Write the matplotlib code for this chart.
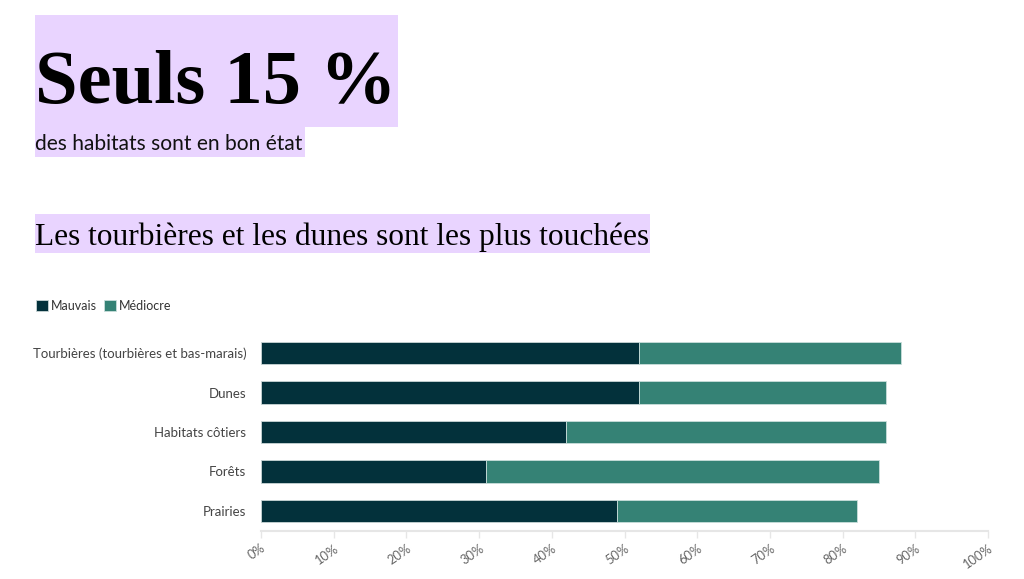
import matplotlib.pyplot as plt
from matplotlib.patches import Rectangle
from matplotlib.ticker import FuncFormatter

W, H = 1024, 579

categories = [
    "Tourbières (tourbières et bas-marais)",
    "Dunes",
    "Habitats côtiers",
    "Forêts",
    "Prairies",
]
mauvais = [52, 52, 42, 31, 49]
mediocre = [36, 34, 44, 54, 33]
series_names = ["Mauvais", "Médiocre"]
ticks = list(range(0, 101, 10))

DARK = "#03313b"
TEAL = "#358275"
HIGHLIGHT = "#e9d4ff"
SANS = ["Lato", "DejaVu Sans"]
SERIF = ["Liberation Serif", "DejaVu Serif"]


def px_box(fig, x0, y0, x1, y1, color):
    # rectangle given in pixel coords from the top-left corner
    fig.patches.append(Rectangle((x0 / W, 1 - y1 / H), (x1 - x0) / W, (y1 - y0) / H,
                                 transform=fig.transFigure, facecolor=color,
                                 edgecolor="none", zorder=0))


def fit_width(fig, txt, target_px):
    # scale the font so the text spans roughly target_px
    renderer = fig.canvas.get_renderer()
    w = txt.get_window_extent(renderer).width
    txt.set_fontsize(txt.get_fontsize() * target_px / w)


fig = plt.figure(figsize=(W / 100, H / 100), dpi=100)

px_box(fig, 35, 15, 398, 127, HIGHLIGHT)
px_box(fig, 35, 127, 305, 157, HIGHLIGHT)
px_box(fig, 35, 214, 650, 253, HIGHLIGHT)

title = fig.text(35 / W, 1 - 103 / H, "Seuls 15 %", fontsize=60, fontweight="bold",
                 family=SERIF, va="baseline", ha="left", color="black")
sub = fig.text(35 / W, 1 - 150 / H, "des habitats sont en bon état", fontsize=15.3,
               family=SANS, va="baseline", ha="left", color="#111111")
head = fig.text(35 / W, 1 - 245 / H, "Les tourbières et les dunes sont les plus touchées",
                fontsize=20, family=SERIF, va="baseline", ha="left", color="black")
fit_width(fig, title, 362)
fit_width(fig, sub, 269)
fit_width(fig, head, 614)

ax = fig.add_axes([261 / W, 1 - 530.75 / H, 727 / W, 197.5 / H])

y = list(range(len(categories)))[::-1]
b1 = ax.barh(y, mauvais, height=0.56, color=DARK, edgecolor="#c9d6d6", linewidth=0.6,
             label=series_names[0])
b2 = ax.barh(y, mediocre, left=mauvais, height=0.56, color=TEAL, edgecolor="#c9dedb",
             linewidth=0.6, label=series_names[1])

ax.set_xlim(0, 100)
ax.set_ylim(-0.5, 4.5)
ax.set_yticks(y)
ax.set_yticklabels(categories, family=SANS, fontsize=9.5, color="#444444")
ax.tick_params(axis="y", length=0, pad=10.5)

ax.set_xticks(ticks)
ax.xaxis.set_major_formatter(FuncFormatter(lambda v, p: f"{v:.0f}%"))
ax.tick_params(axis="x", length=5, width=1, color="#e6e6e6", pad=3)
for lab in ax.get_xticklabels():
    lab.set_rotation(35)
    lab.set_ha("right")
    lab.set_rotation_mode("anchor")
    lab.set_family(SANS)
    lab.set_fontsize(9.3)
    lab.set_color("#666666")

for side in ["top", "right", "left"]:
    ax.spines[side].set_visible(False)
ax.spines["bottom"].set_color("#e6e6e6")
ax.spines["bottom"].set_linewidth(1.5)

leg = fig.legend(handles=[b1, b2], loc="upper left", bbox_to_anchor=(31 / W, 1 - 295 / H),
                 ncol=2, frameon=False, handlelength=0.95, handleheight=0.95,
                 handletextpad=0.25, columnspacing=0.55, borderaxespad=0,
                 prop={"family": SANS, "size": 9.0})
for t in leg.get_texts():
    t.set_color("#333333")

fig.savefig("out.png", dpi=100)
